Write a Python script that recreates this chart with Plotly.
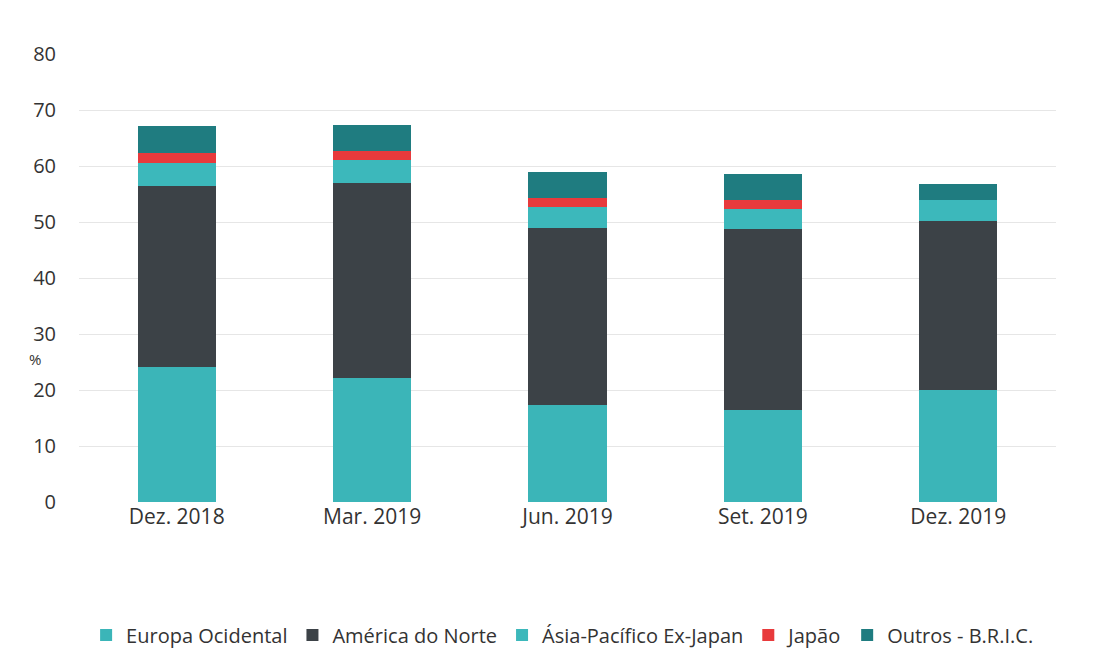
import plotly.graph_objects as go

categories = ["Dez. 2018", "Mar. 2019", "Jun. 2019", "Set. 2019", "Dez. 2019"]
europa = [24.1, 22.1, 17.3, 16.4, 20.0]
america = [32.3, 34.8, 31.6, 32.3, 30.2]
asia = [4.1, 4.1, 3.8, 3.6, 3.8]
japao = [1.8, 1.6, 1.6, 1.7, 0.0]
outros = [4.8, 4.8, 4.6, 4.5, 2.7]

series = [
    ("Europa Ocidental", europa, "#3bb5b8"),
    ("América do Norte", america, "#3c4247"),
    ("Ásia-Pacífico Ex-Japan", asia, "#3cb8bb"),
    ("Japão", japao, "#e83a3c"),
    ("Outros - B.R.I.C.", outros, "#1f7c80"),
]

fig = go.Figure()
for name, vals, color in series:
    fig.add_trace(go.Bar(x=categories, y=vals, name=name, marker_color=color,
                         marker_line_width=0, width=0.4))

fig.update_layout(
    barmode="stack",
    width=1107, height=667,
    paper_bgcolor="white", plot_bgcolor="white",
    margin=dict(l=71, r=59, t=46, b=173),
    font=dict(family="Open Sans, Liberation Sans, sans-serif", size=20, color="#333333"),
    xaxis=dict(showgrid=False, showline=False, ticks="", tickfont=dict(size=21),
               automargin=False),
    yaxis=dict(range=[0, 80], dtick=10, showgrid=True, gridcolor="#e6e6e6",
               gridwidth=1, zeroline=False, showline=False, ticks="",
               tickfont=dict(size=20), ticklabelstandoff=22, automargin=False),
    legend=dict(orientation="h", xref="container", yref="container",
                x=0.501, xanchor="center", y=0.06, yanchor="middle",
                font=dict(size=20), traceorder="normal", itemwidth=30,
                tracegroupgap=0),
    annotations=[dict(text="%", x=0, xref="paper", xshift=-52, y=25.6, yref="y",
                      showarrow=False, font=dict(size=15, color="#333333"))],
)

fig.write_html("out.html")
